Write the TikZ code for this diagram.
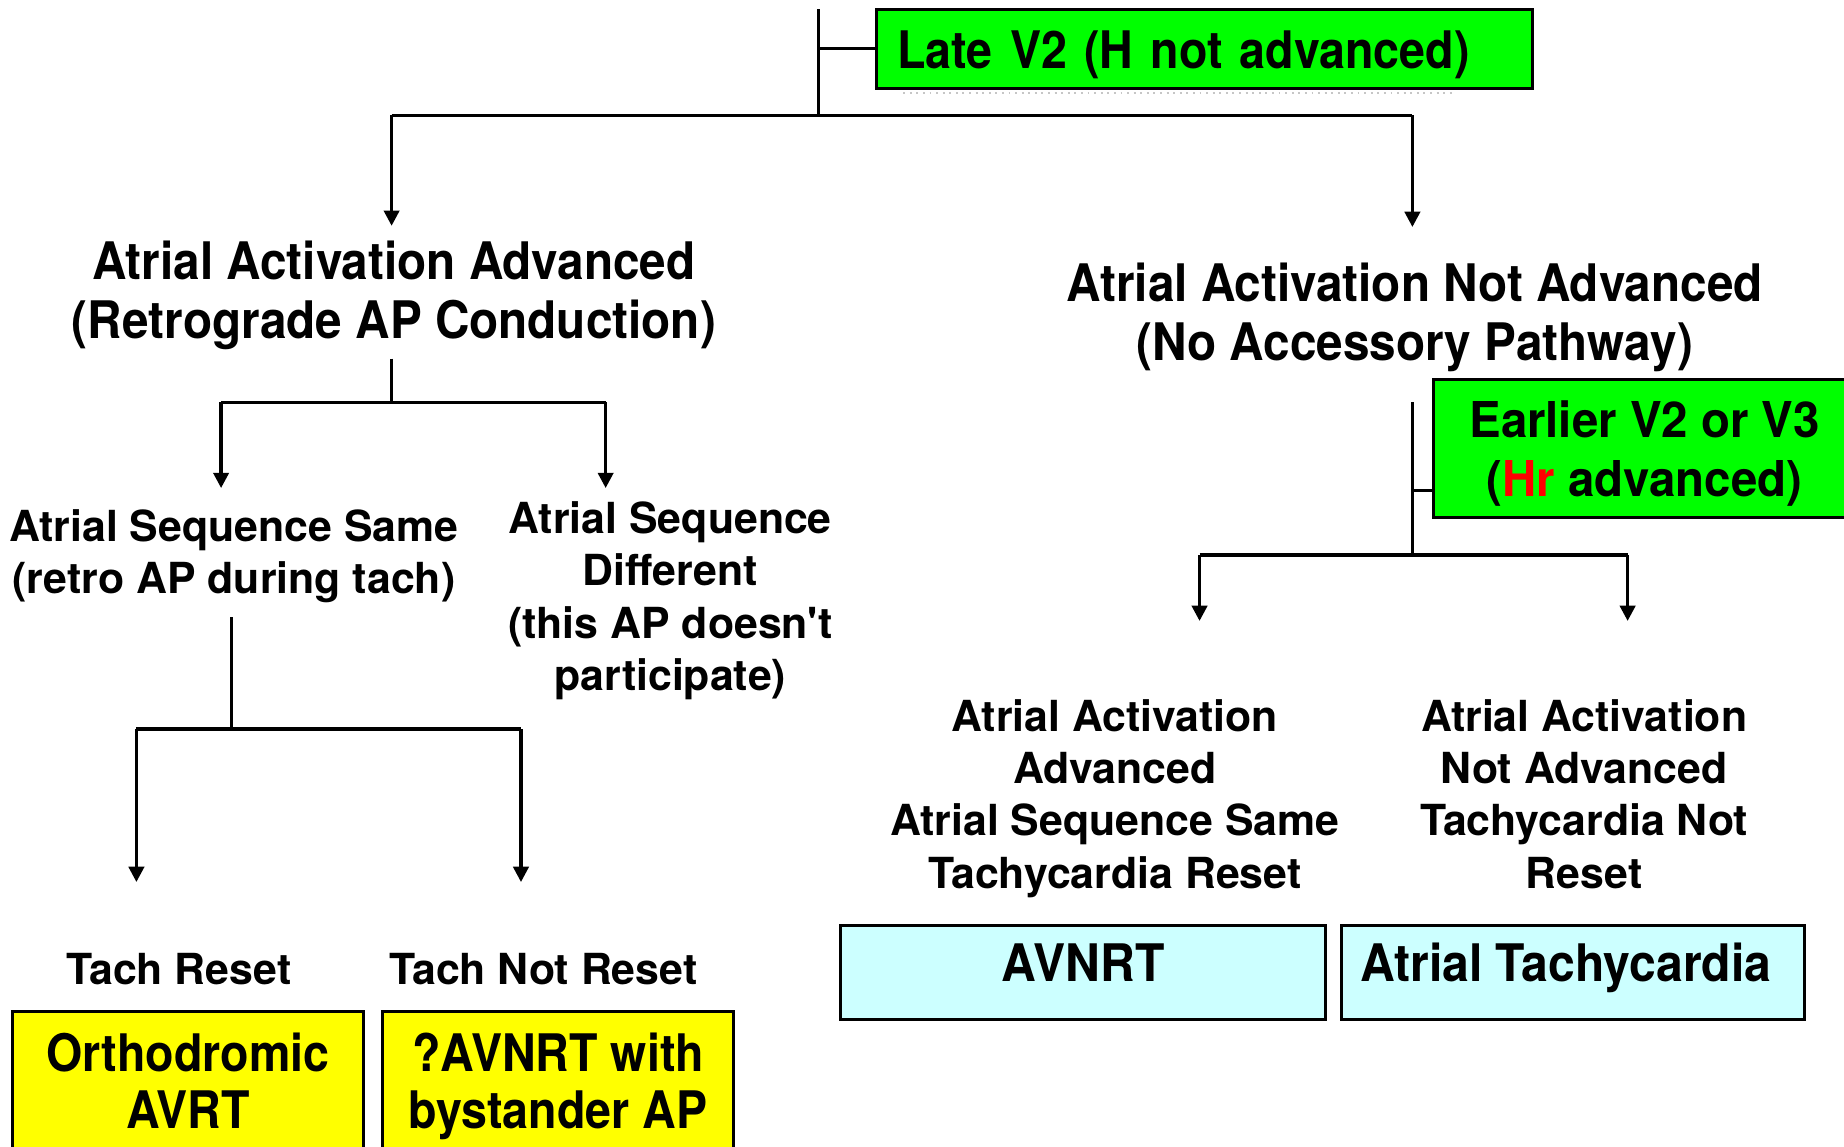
\documentclass[tikz,border=0pt]{standalone}
\usepackage{fontspec}
\setmainfont{TeX Gyre Heros}
\newfontfamily\narrowA{TeX Gyre Heros}[FakeStretch=0.922]
\newfontfamily\narrowB{TeX Gyre Heros}[FakeStretch=0.9]
\newfontfamily\narrowC{TeX Gyre Heros}[FakeStretch=0.96]
\newfontfamily\narrowD{TeX Gyre Heros}[FakeStretch=0.93]
\usetikzlibrary{arrows.meta}
\definecolor{greenC}{RGB}{0,255,0}
\definecolor{yellowC}{RGB}{255,255,0}
\definecolor{cyanC}{RGB}{204,255,255}
\definecolor{redC}{RGB}{255,0,0}
\begin{document}
\begin{tikzpicture}[x=0.5pt,y=-0.5pt,line width=1.4pt,
  arr/.style={-{Triangle[width=6.5pt,length=6.5pt]}},
  lvlA/.style={font=\narrowA\bfseries\fontsize{22}{25}\selectfont, align=center, inner sep=0pt},
  lvlB/.style={font=\bfseries\fontsize{18.2}{22.25}\selectfont, align=center, inner sep=0pt, text depth=0.21em},
  boxed/.style={draw, line width=1.25pt, inner sep=0pt, align=center},
  gbox/.style={boxed, fill=greenC},
  ybox/.style={boxed, fill=yellowC, font=\narrowB\bfseries\fontsize{22}{24.5}\selectfont},
  cbox/.style={boxed, fill=cyanC, font=\narrowD\bfseries\fontsize{22}{25}\selectfont}]
\useasboundingbox (0,0) rectangle (1568,975);
\fill[white] (0,0) rectangle (1568,975);

% top green box
\node[gbox, minimum height=33.5pt, text width=261pt, inner xsep=9pt, align=left,
      font=\narrowB\bfseries\fontsize{22}{25}\selectfont] (late) at (1024,41.5)
      {\raisebox{-2.6pt}[0.75em][0.21em]{Late V2 (H not advanced)}};
\draw[gray!45, line width=0.8pt, dotted] (768,79) -- (1238,79);

\coordinate (t0) at (696,8);
\coordinate (t1) at (696,98);
\coordinate (hL) at (333,98);
\coordinate (hR) at (1201,98);
\coordinate (aL) at (333,192);
\coordinate (aR) at (1201,193);
\draw (t0) -- (t1);
\draw (t0 |- late.west) -- (late.west);
\draw (hL) -- (hR);
\draw[arr] (hL) -- (aL);
\draw[arr] (hR) -- (aR);

% left branch
\node[lvlA] (aaa) at (335,251) {Atrial Activation Advanced\\(Retrograde AP Conduction)};
\coordinate (b0) at (333,305);
\coordinate (b1) at (333,342);
\coordinate (bL) at (188,342);
\coordinate (bR) at (515,342);
\coordinate (bLa) at (188,415);
\coordinate (bRa) at (515,415);
\draw (b0) -- (b1);
\draw (bL) -- (bR);
\draw[arr] (bL) -- (bLa);
\draw[arr] (bR) -- (bRa);

\node[lvlB] (ass) at (199,471) {Atrial Sequence Same\\(retro AP during tach)};
\node[lvlB] (asd) at (570,509) {Atrial Sequence\\Different\\(this AP doesn\textquotesingle t\\participate)};

\coordinate (c0) at (197,525);
\coordinate (c1) at (197,620);
\coordinate (cL) at (116,620);
\coordinate (cR) at (443,620);
\coordinate (cLa) at (116,750);
\coordinate (cRa) at (443,750);
\draw (c0) -- (c1);
\draw (cL) -- (cR);
\draw[arr] (cL) -- (cLa);
\draw[arr] (cR) -- (cRa);

\node[lvlB] (tr) at (152,826) {Tach Reset};
\node[lvlB] (tnr) at (462,826) {Tach Not Reset};

\node[ybox, minimum width=149pt, minimum height=62.5pt, text depth=0.37em] (ortho) at (160,922.5) {Orthodromic\\AVRT};
\node[ybox, minimum width=149.5pt, minimum height=62.5pt, text depth=0.37em] (bys) at (474.5,922.5) {?AVNRT with\\bystander AP};

% right branch
\node[lvlA] (aana) at (1203,270) {Atrial Activation Not Advanced\\(No Accessory Pathway)};
\node[gbox, minimum width=179.5pt, minimum height=58.5pt, text depth=0pt,
      font=\narrowC\bfseries\fontsize{21}{25}\selectfont] (early) at (1398.5,381.5) {Earlier V2 or V3\\({\color{redC}Hr} advanced)};

\coordinate (d0) at (1201,342);
\coordinate (d1) at (1201,472);
\coordinate (dm) at (1201,417);
\coordinate (dL) at (1020,472);
\coordinate (dR) at (1384,472);
\coordinate (dLa) at (1020,528);
\coordinate (dRa) at (1384,528);
\draw (d0) -- (d1);
\draw (dm) -- (dm -| early.west);
\draw (dL) -- (dR);
\draw[arr] (dL) -- (dLa);
\draw[arr] (dR) -- (dRa);

\node[lvlB] (aa4) at (948,677) {Atrial Activation\\Advanced\\Atrial Sequence Same\\Tachycardia Reset};
\node[lvlB] (ana4) at (1347,677) {Atrial Activation\\Not Advanced\\Tachycardia Not\\Reset};

\node[cbox, minimum width=206pt, minimum height=40pt, text height=0.76em, text depth=0pt] (avnrt) at (921,827) {AVNRT};
\node[cbox, minimum width=196.5pt, minimum height=40pt, text height=0.76em, text depth=0pt] (at) at (1337.5,827) {\hspace*{-6pt}Atrial Tachycardia};
\end{tikzpicture}
\end{document}
